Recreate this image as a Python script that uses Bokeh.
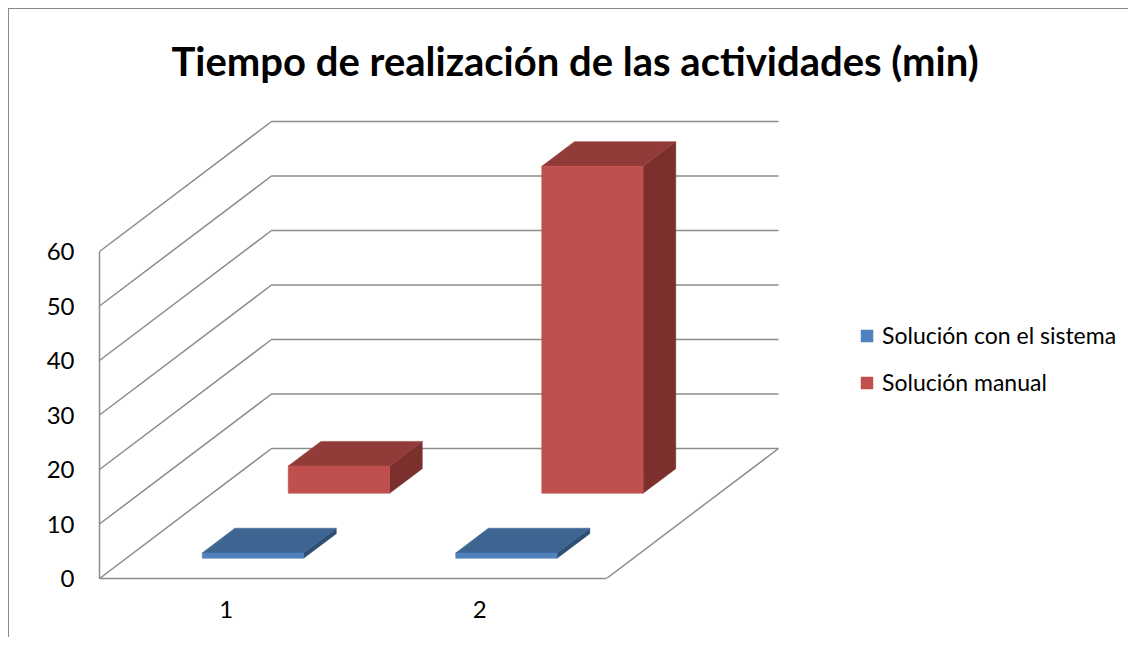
from bokeh.plotting import figure
from bokeh.models import Range1d, FixedTicker, Legend, LegendItem
from bokeh.embed import file_html
from bokeh.resources import INLINE

# ---------------- data ----------------
title_text = "Tiempo de realización de las actividades (min)"
categories = ["1", "2"]
series_names = ["Solución con el sistema", "Solución manual"]
sistema = [1, 1]
manual = [5, 60]
y_ticks = [0, 10, 20, 30, 40, 50, 60]

# ---------------- styles ----------------
front_colors = ["#4F81BD", "#C0504D"]
top_colors = ["#3D6592", "#923C3A"]
side_colors = ["#2F4E74", "#7B302E"]
GRID_COLOR = "#8C8C8C"
FONT = "Lato"
LABEL_SIZE = "24px"
LEGEND_SIZE = "23px"

W, H = 1120, 629
B_L, B_R, B_T, B_B = 90, 0, 92, 60
frame_w = W - B_L - B_R
frame_h = H - B_T - B_B
PX_CAT = 253.5            # pixels per category on the front plane
PX_VAL = 327.0 / 60.0     # pixels per value unit
DX = 172.0 / PX_CAT       # depth offset (x units) for full depth
DY = 130.0 / PX_VAL       # depth offset (y units) for full depth
BAR_W = 0.4
BAR_D = 0.19
N = len(categories)
y_max = max(y_ticks)


def proj(x, y, z):
    return x + z * DX, y + z * DY


p = figure(width=W, height=H, output_backend="svg", toolbar_location=None,
           x_range=Range1d(0, frame_w / PX_CAT), y_range=Range1d(0, frame_h / PX_VAL),
           min_border_left=B_L, min_border_right=B_R, min_border_top=B_T, min_border_bottom=B_B)
p.outline_line_color = None
p.xgrid.visible = False
p.ygrid.visible = False
p.styles = {"margin-left": "8px", "margin-top": "8px",
            "border-left": "1px solid #8a8a8a", "border-top": "1px solid #8a8a8a"}

# title
p.title.text = title_text
p.title.text_font = FONT
p.title.text_font_style = "bold"
p.title.text_font_size = "40px"
p.title.text_color = "black"
p.title.align = "left"
p.title.offset = 72
p.title.standoff = 34

# walls / gridlines
gx, gy = [], []
for v in y_ticks:
    a = proj(0, v, 0)
    b = proj(0, v, 1)
    c = proj(N, v, 1)
    gx.append([a[0], b[0], c[0]])
    gy.append([a[1], b[1], c[1]])
f1 = proj(N, 0, 0)
f2 = proj(N, 0, 1)
gx.append([f1[0], f2[0]])
gy.append([f1[1], f2[1]])
p.multi_line(gx, gy, line_color=GRID_COLOR, line_width=1.5)

# bars
all_series = [sistema, manual]
front_renderers = [None] * len(all_series)
for r in reversed(range(len(all_series))):
    vals = all_series[r]
    z0 = r / len(all_series) + (1.0 / len(all_series) - BAR_D) / 2
    z1 = z0 + BAR_D
    fx, fy, tx, ty, sx, sy = [], [], [], [], [], []
    for c, h in enumerate(vals):
        x0 = c + (1 - BAR_W) / 2
        x1 = x0 + BAR_W
        pts = [proj(x0, 0, z0), proj(x1, 0, z0), proj(x1, h, z0), proj(x0, h, z0)]
        fx.append([q[0] for q in pts]); fy.append([q[1] for q in pts])
        pts = [proj(x0, h, z0), proj(x1, h, z0), proj(x1, h, z1), proj(x0, h, z1)]
        tx.append([q[0] for q in pts]); ty.append([q[1] for q in pts])
        pts = [proj(x1, 0, z0), proj(x1, 0, z1), proj(x1, h, z1), proj(x1, h, z0)]
        sx.append([q[0] for q in pts]); sy.append([q[1] for q in pts])
    p.patches(sx, sy, fill_color=side_colors[r], line_color=side_colors[r], line_width=0.5)
    p.patches(tx, ty, fill_color=top_colors[r], line_color=top_colors[r], line_width=0.5)
    front_renderers[r] = p.patches(fx, fy, fill_color=front_colors[r], line_color=front_colors[r], line_width=0.5)

# axes
p.yaxis.ticker = FixedTicker(ticks=y_ticks)
p.yaxis.bounds = (0, y_max)
p.yaxis.axis_line_color = GRID_COLOR
p.yaxis.axis_line_width = 1.5
p.yaxis.major_tick_in = 0
p.yaxis.major_tick_out = 0
p.yaxis.minor_tick_line_color = None
p.yaxis.major_label_standoff = 25
p.yaxis.major_label_text_font = FONT
p.yaxis.major_label_text_font_size = LABEL_SIZE
p.yaxis.major_label_text_color = "black"

p.xaxis.ticker = FixedTicker(ticks=[i + 0.5 for i in range(N)])
p.xaxis.major_label_overrides = {i + 0.5: c for i, c in enumerate(categories)}
p.xaxis.bounds = (0, N)
p.xaxis.axis_line_color = GRID_COLOR
p.xaxis.axis_line_width = 1.5
p.xaxis.major_tick_in = 0
p.xaxis.major_tick_out = 0
p.xaxis.minor_tick_line_color = None
p.xaxis.major_label_standoff = 22
p.xaxis.major_label_text_font = FONT
p.xaxis.major_label_text_font_size = LABEL_SIZE
p.xaxis.major_label_text_color = "black"

legend = Legend(items=[LegendItem(label=series_names[i], renderers=[front_renderers[i]])
                       for i in range(len(series_names))],
                location=(760, 182), orientation="vertical")
legend.label_text_font = FONT
legend.label_text_font_size = LEGEND_SIZE
legend.label_text_color = "black"
legend.glyph_width = 15
legend.glyph_height = 15
legend.label_standoff = 8
legend.spacing = 19
legend.padding = 0
legend.margin = 0
legend.border_line_color = None
legend.background_fill_alpha = 0
p.add_layout(legend)

open("out.html", "w").write(file_html(p, INLINE))
